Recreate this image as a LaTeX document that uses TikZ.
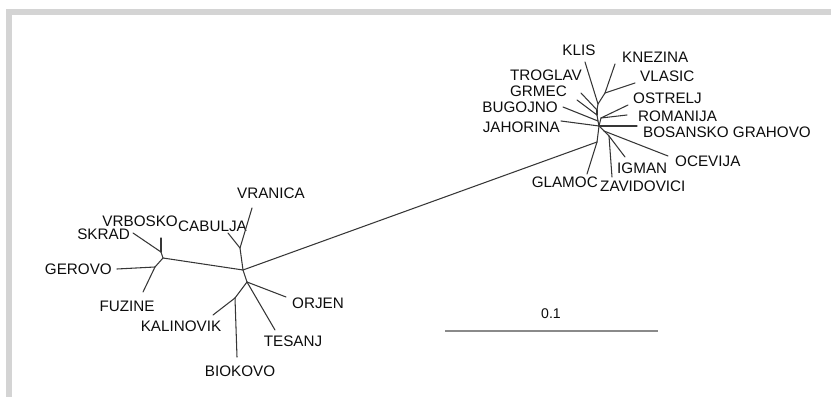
\documentclass[tikz,border=0pt]{standalone}
\usepackage{fontspec}
\setmainfont{Liberation Sans}
\definecolor{branchgray}{HTML}{363636}
\definecolor{framegray}{HTML}{D4D4D4}
\definecolor{bargray}{HTML}{8A8A8A}
\tikzset{
  branch/.style={draw=branchgray, line width=0.9pt, line cap=round},
  taxon/.style={font=\fontsize{13}{15}\selectfont, text=black!95, inner sep=0pt},
}
\begin{document}
\begin{tikzpicture}[x=0.03cm, y=-0.03cm]
    \useasboundingbox (0,0) rectangle (831,397);
    \fill[framegray] (6,9) rectangle (831,15);
    \fill[framegray] (6,9) rectangle (12,397);
    % inner nodes of the tree
    \foreach \n/\x/\y in {lc/243/270, lu/240/248, ld/247/282, lk/235/298,
        la/163/258, ls/161/252, lg/155/267,
        rb/597/142, rc/599/126, ro/604/131, ri/609/136, rr/601/118,
        rj/598/121, rg/597/115, rt/597/110, rk/598/104, rn/605/93}
      \coordinate (\n) at (\x,\y);
    % tips of the branches
    \foreach \n/\x/\y in {tvranica/252/208, tcabulja/228/233, tvrbosko/161/238,
        tskrad/133/233, tgerovo/117/269, tfuzine/143/292, tkalinovik/213/315,
        tbiokovo/237/357, ttesanj/275/330, torjen/286/297,
        tklis/585/62, tknezina/615/64, tvlasic/635/83, ttroglav/581/93,
        tgrmec/577/100, tbugojno/563/107, tjahorina/561/121, tostrelj/628/105,
        tromanija/627/115, tbosansko/637/126, tocevija/668/156, tigman/625/157,
        tzavidovici/612/177, tglamoc/587/174}
      \coordinate (\n) at (\x,\y);
    % labels
    \foreach \n/\pos/\x/\y/\lbl in {vranica/center/271/193/VRANICA,
        vrbosko/east/178/221/VRBOSKO, cabulja/west/178/226/CABULJA,
        skrad/east/130/234/SKRAD, gerovo/east/112/269/GEROVO,
        fuzine/center/127/306/FUZINE, kalinovik/center/181/326/KALINOVIK,
        biokovo/center/240/371/BIOKOVO, tesanj/center/293/341/TESANJ,
        orjen/west/292/303/ORJEN,
        klis/center/579/50/KLIS, knezina/west/622/57/KNEZINA,
        troglav/east/582/75/TROGLAV, grmec/east/567/91/GRMEC,
        bugojno/east/558/107/BUGOJNO, jahorina/east/560/127/JAHORINA,
        vlasic/west/640/76/VLASIC, ostrelj/west/633/98/OSTRELJ,
        romanija/west/638/116/ROMANIJA, bosansko/west/643/132/BOSANSKO GRAHOVO,
        ocevija/west/675/161/OCEVIJA, igman/west/617/168/IGMAN,
        glamoc/east/598/182/GLAMOC, zavidovici/west/600/186/ZAVIDOVICI}
      \node[taxon, anchor=\pos] (\n) at (\x,\y) {\lbl};
    % branches
    \foreach \a/\b in {lc/rb, lc/lu, lu/tvranica, lu/tcabulja, lc/la, la/ls,
        ls/tvrbosko, ls/tskrad, la/lg, lg/tgerovo, lg/tfuzine, lc/ld,
        ld/torjen, ld/ttesanj, ld/lk, lk/tkalinovik, lk/tbiokovo,
        rb/tglamoc, rb/rc, rc/tjahorina, rc/tbosansko, rc/ro, ro/tocevija,
        ro/ri, ri/tigman, ri/tzavidovici, rc/rr, rr/tostrelj, rr/tromanija,
        rc/rj, rj/tbugojno, rj/rg, rg/tgrmec, rg/rt, rt/ttroglav, rt/rk,
        rk/tklis, rk/rn, rn/tknezina, rn/tvlasic}
      \draw[branch] (\a) -- (\b);
    % scale bar
    \coordinate (barl) at (445,331);
    \coordinate (barr) at (658,331);
    \draw[bargray, line width=1.3pt] (barl) -- (barr);
    \node[taxon, font=\fontsize{12}{14}\selectfont] (barlbl) at (551,314) {0.1};
  \end{tikzpicture}
\end{document}
